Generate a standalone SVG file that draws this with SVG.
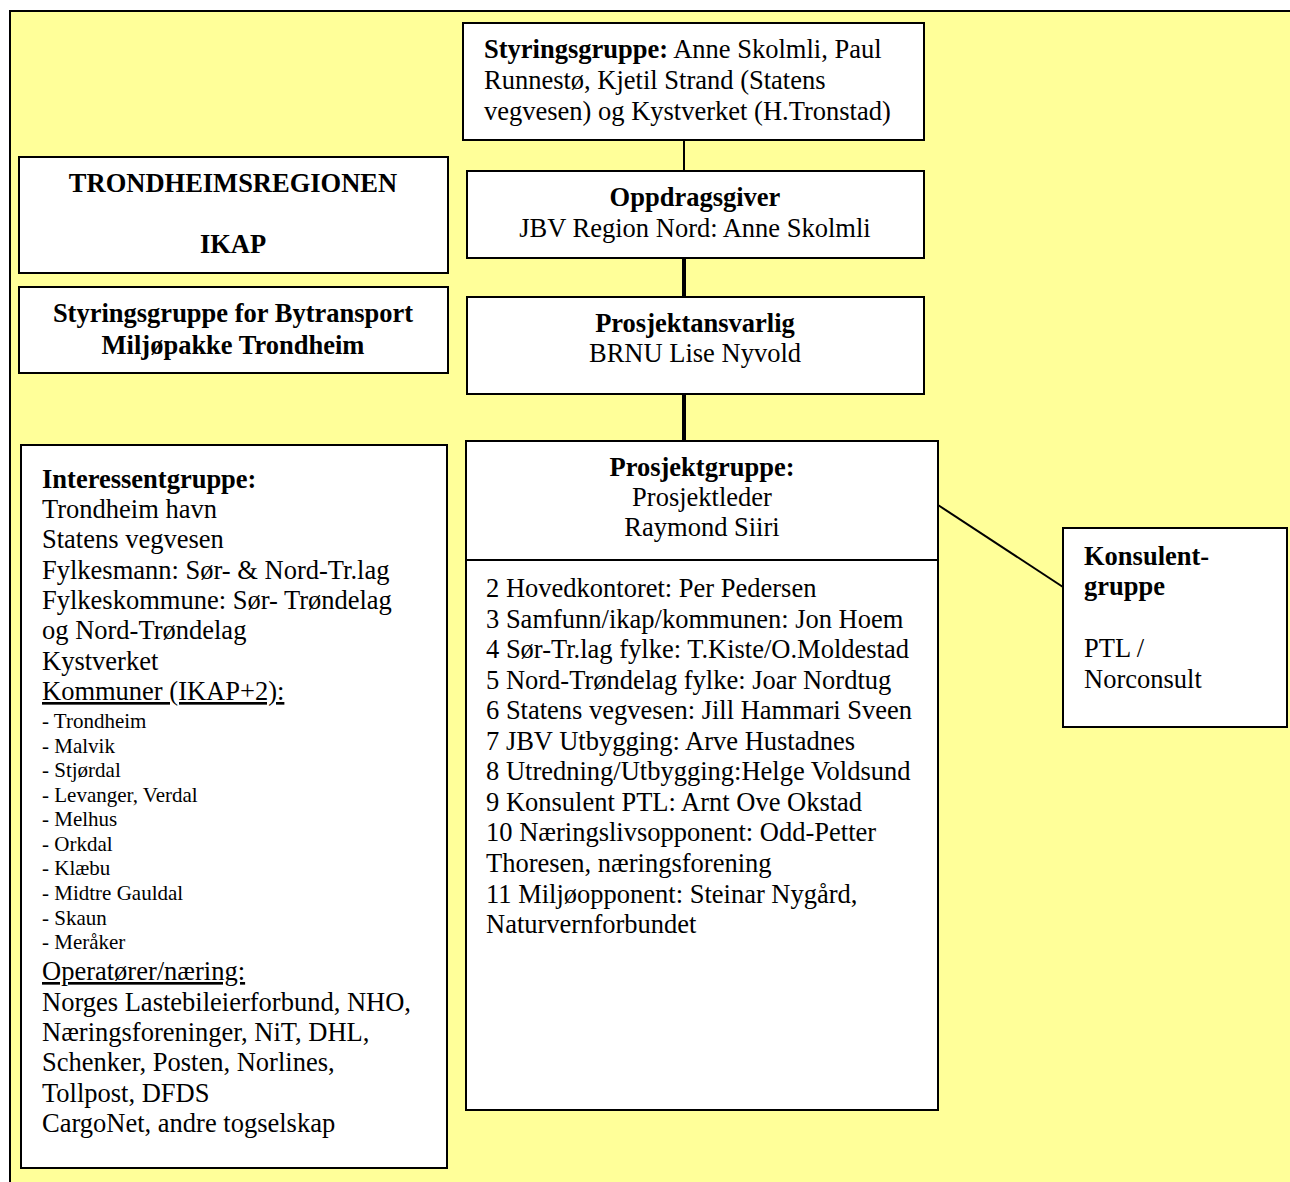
<svg xmlns="http://www.w3.org/2000/svg" width="1290" height="1182" viewBox="0 0 1290 1182">
<style>
text{font-family:"Liberation Serif","Times New Roman",serif;font-size:26.5px;fill:#000}
.b{font-weight:bold}
.s{font-size:21px}
.c{text-anchor:middle}
.u{text-decoration:underline}
.box{fill:#fff;stroke:#000;stroke-width:2}
.ln{stroke:#000;stroke-width:2;fill:none}
.thk{stroke:#000;stroke-width:4;fill:none}
</style>
<rect x="0" y="0" width="1290" height="1182" fill="#fff"/>
<rect x="10" y="11" width="1300" height="1190" fill="#FFFF99" stroke="#000" stroke-width="2"/>
<g id="connectors">
<line class="ln" x1="684" y1="140" x2="684" y2="171"/>
<line class="thk" x1="684" y1="259" x2="684" y2="297"/>
<line class="thk" x1="684" y1="387" x2="684" y2="443"/>
<line class="ln" x1="938" y1="505" x2="1063" y2="587"/>
</g>
<g id="styringsgruppe">
<rect class="box" x="463" y="23" width="461" height="117"/>
<text x="484" y="58"><tspan class="b">Styringsgruppe:</tspan> Anne Skolmli, Paul</text>
<text x="484" y="89">Runnestø, Kjetil Strand (Statens</text>
<text x="484" y="120">vegvesen) og Kystverket (H.Tronstad)</text>
</g>
<g id="oppdragsgiver">
<rect class="box" x="467" y="171" width="457" height="87"/>
<text class="b c" x="695" y="206">Oppdragsgiver</text>
<text class="c" x="695" y="237">JBV Region Nord: Anne Skolmli</text>
</g>
<g id="prosjektansvarlig">
<rect class="box" x="467" y="297" width="457" height="97"/>
<text class="b c" x="695" y="332">Prosjektansvarlig</text>
<text class="c" x="695" y="362">BRNU Lise Nyvold</text>
</g>
<g id="trondheimsregionen">
<rect class="box" x="19" y="157" width="429" height="116"/>
<text class="b c" x="233" y="192">TRONDHEIMSREGIONEN</text>
<text class="b c" x="233" y="253">IKAP</text>
</g>
<g id="bytransport">
<rect class="box" x="19" y="287" width="429" height="86"/>
<text class="b c" x="233" y="322">Styringsgruppe for Bytransport</text>
<text class="b c" x="233" y="354">Miljøpakke Trondheim</text>
</g>
<g id="prosjektgruppe">
<rect class="box" x="466" y="441" width="472" height="669"/>
<line class="ln" x1="466" y1="560" x2="938" y2="560"/>
<text class="b c" x="702" y="476">Prosjektgruppe:</text>
<text class="c" x="702" y="506">Prosjektleder</text>
<text class="c" x="702" y="536">Raymond Siiri</text>
<text x="486" y="597">2 Hovedkontoret: Per Pedersen</text>
<text x="486" y="628">3 Samfunn/ikap/kommunen: Jon Hoem</text>
<text x="486" y="658">4 Sør-Tr.lag fylke: T.Kiste/O.Moldestad</text>
<text x="486" y="689">5 Nord-Trøndelag fylke: Joar Nordtug</text>
<text x="486" y="719">6 Statens vegvesen: Jill Hammari Sveen</text>
<text x="486" y="750">7 JBV Utbygging: Arve Hustadnes</text>
<text x="486" y="780">8 Utredning/Utbygging:Helge Voldsund</text>
<text x="486" y="811">9 Konsulent PTL: Arnt Ove Okstad</text>
<text x="486" y="841">10 Næringslivsopponent: Odd-Petter</text>
<text x="486" y="872">Thoresen, næringsforening</text>
<text x="486" y="903">11 Miljøopponent: Steinar Nygård,</text>
<text x="486" y="933">Naturvernforbundet</text>
</g>
<g id="konsulentgruppe">
<rect class="box" x="1063" y="528" width="224" height="199"/>
<text class="b" x="1084" y="565">Konsulent-</text>
<text class="b" x="1084" y="595">gruppe</text>
<text x="1084" y="657">PTL /</text>
<text x="1084" y="688">Norconsult</text>
</g>
<g id="interessentgruppe">
<rect class="box" x="21" y="445" width="426" height="723"/>
<text class="b" x="42" y="488">Interessentgruppe:</text>
<text x="42" y="518">Trondheim havn</text>
<text x="42" y="548">Statens vegvesen</text>
<text x="42" y="579">Fylkesmann: Sør- &amp; Nord-Tr.lag</text>
<text x="42" y="609">Fylkeskommune: Sør- Trøndelag</text>
<text x="42" y="639">og Nord-Trøndelag</text>
<text x="42" y="670">Kystverket</text>
<text class="u" x="42" y="700">Kommuner (IKAP+2):</text>
<text class="s" x="42" y="728">- Trondheim</text>
<text class="s" x="42" y="753">- Malvik</text>
<text class="s" x="42" y="777">- Stjørdal</text>
<text class="s" x="42" y="802">- Levanger, Verdal</text>
<text class="s" x="42" y="826">- Melhus</text>
<text class="s" x="42" y="851">- Orkdal</text>
<text class="s" x="42" y="875">- Klæbu</text>
<text class="s" x="42" y="900">- Midtre Gauldal</text>
<text class="s" x="42" y="925">- Skaun</text>
<text class="s" x="42" y="949">- Meråker</text>
<text class="u" x="42" y="980">Operatører/næring:</text>
<text x="42" y="1011">Norges Lastebileierforbund, NHO,</text>
<text x="42" y="1041">Næringsforeninger, NiT, DHL,</text>
<text x="42" y="1071">Schenker, Posten, Norlines,</text>
<text x="42" y="1102">Tollpost, DFDS</text>
<text x="42" y="1132">CargoNet, andre togselskap</text>
</g>
</svg>
